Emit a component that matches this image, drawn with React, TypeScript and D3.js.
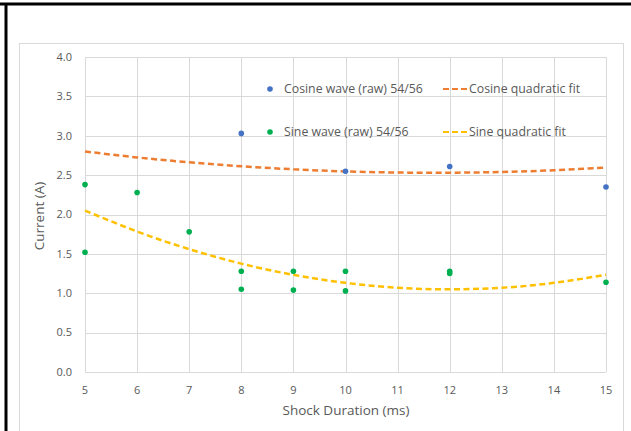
import React, { useRef, useEffect } from 'react';
import * as d3 from 'd3';

// raw measurements
const cosX = [8, 10, 12, 15];
const cosY = [3.03, 2.55, 2.61, 2.35];
const sinX = [5, 5, 6, 7, 8, 8, 9, 9, 10, 10, 12, 12, 15];
const sinY = [2.38, 1.52, 2.28, 1.78, 1.28, 1.05, 1.28, 1.04, 1.28, 1.03, 1.28, 1.25, 1.14];

// fitted curves read at each integer duration
const fitX = [5, 6, 7, 8, 9, 10, 11, 12, 13, 14, 15];
const cosFit = [2.8, 2.725, 2.663, 2.612, 2.574, 2.547, 2.533, 2.531, 2.54, 2.562, 2.595];
const sinFit = [2.05, 1.784, 1.56, 1.376, 1.234, 1.132, 1.07, 1.05, 1.07, 1.132, 1.234];

const xTicks = [5, 6, 7, 8, 9, 10, 11, 12, 13, 14, 15];
const yTicks = [0, 0.5, 1, 1.5, 2, 2.5, 3, 3.5, 4];

const App = () => {
  const svgRef = useRef(null);

  useEffect(() => {
    const width = 631;
    const height = 431;
    const font = 'Open Sans, Lato, sans-serif';
    const textColor = '#595959';

    const svg = d3.select(svgRef.current)
      .attr('width', width)
      .attr('height', height);
    svg.selectAll('*').remove();

    svg.append('rect').attr('width', width).attr('height', height).attr('fill', '#fff');

    // outer black frame (top + left)
    svg.append('line').attr('x1', 0).attr('x2', width).attr('y1', 4).attr('y2', 4)
      .attr('stroke', '#000').attr('stroke-width', 3);
    svg.append('line').attr('x1', 6).attr('x2', 6).attr('y1', 3).attr('y2', height)
      .attr('stroke', '#000').attr('stroke-width', 3);

    // chart area frame
    svg.append('rect').attr('x', 19.5).attr('y', 43.5).attr('width', 604).attr('height', 400)
      .attr('fill', 'none').attr('stroke', '#d9d9d9');

    const x = d3.scaleLinear().domain([5, 15]).range([85, 606]);
    const y = d3.scaleLinear().domain([0, 4]).range([372, 57]);

    const grid = svg.append('g');
    yTicks.forEach(t => {
      grid.append('line').attr('x1', x(5)).attr('x2', x(15))
        .attr('y1', Math.round(y(t)) + 0.5).attr('y2', Math.round(y(t)) + 0.5)
        .attr('stroke', '#d9d9d9');
    });
    xTicks.forEach(t => {
      grid.append('line').attr('y1', y(0)).attr('y2', y(4))
        .attr('x1', Math.round(x(t)) + 0.5).attr('x2', Math.round(x(t)) + 0.5)
        .attr('stroke', '#d9d9d9');
    });

    // tick labels
    svg.append('g').selectAll('text').data(yTicks).enter().append('text')
      .attr('x', 72).attr('y', d => y(d)).attr('dy', '0.35em')
      .attr('text-anchor', 'end').attr('font-family', font).attr('font-size', 11)
      .attr('fill', textColor).text(d => d3.format('.1f')(d));
    svg.append('g').selectAll('text').data(xTicks).enter().append('text')
      .attr('x', d => x(d)).attr('y', 394)
      .attr('text-anchor', 'middle').attr('font-family', font).attr('font-size', 11)
      .attr('fill', textColor).text(d => d);

    // axis titles
    svg.append('text').attr('x', 346).attr('y', 415).attr('text-anchor', 'middle')
      .attr('font-family', font).attr('font-size', 13.5).attr('fill', textColor)
      .text('Shock Duration (ms)');
    svg.append('text').attr('transform', 'translate(44,216) rotate(-90)')
      .attr('text-anchor', 'middle').attr('font-family', font).attr('font-size', 13.5)
      .attr('fill', textColor).text('Current (A)');

    // fit lines
    const line = d3.line<number>()
      .x((d, i) => x(fitX[i]))
      .y(d => y(d))
      .curve(d3.curveNatural);
    svg.append('path').attr('d', line(cosFit)).attr('fill', 'none')
      .attr('stroke', '#ED7D31').attr('stroke-width', 2.5).attr('stroke-dasharray', '6,3.5');
    svg.append('path').attr('d', line(sinFit)).attr('fill', 'none')
      .attr('stroke', '#FFC000').attr('stroke-width', 2.5).attr('stroke-dasharray', '6,3.5');

    // points
    svg.append('g').selectAll('circle').data(cosY).enter().append('circle')
      .attr('cx', (d, i) => x(cosX[i])).attr('cy', d => y(d)).attr('r', 2.8)
      .attr('fill', '#4472C4');
    svg.append('g').selectAll('circle').data(sinY).enter().append('circle')
      .attr('cx', (d, i) => x(sinX[i])).attr('cy', d => y(d)).attr('r', 2.8)
      .attr('fill', '#00B050');

    // legend
    const legend = [
      { label: 'Cosine wave (raw) 54/56', color: '#4472C4', type: 'dot', lx: 270, ly: 89 },
      { label: 'Cosine quadratic fit', color: '#ED7D31', type: 'dash', lx: 443, ly: 89 },
      { label: 'Sine wave (raw) 54/56', color: '#00B050', type: 'dot', lx: 270, ly: 132 },
      { label: 'Sine quadratic fit', color: '#FFC000', type: 'dash', lx: 443, ly: 132 },
    ];
    legend.forEach(l => {
      if (l.type === 'dot') {
        svg.append('circle').attr('cx', l.lx).attr('cy', l.ly).attr('r', 2.8).attr('fill', l.color);
        svg.append('text').attr('x', l.lx + 14).attr('y', l.ly).attr('dy', '0.35em')
          .attr('font-family', font).attr('font-size', 12.3).attr('fill', textColor).text(l.label);
      } else {
        svg.append('line').attr('x1', l.lx).attr('x2', l.lx + 24).attr('y1', l.ly).attr('y2', l.ly)
          .attr('stroke', l.color).attr('stroke-width', 2).attr('stroke-dasharray', '6,3');
        svg.append('text').attr('x', l.lx + 26).attr('y', l.ly).attr('dy', '0.35em')
          .attr('font-family', font).attr('font-size', 12.3).attr('fill', textColor).text(l.label);
      }
    });
  }, []);

  return <svg ref={svgRef} style={{ position: 'absolute', left: 0, top: 0 }}></svg>;
};

export default App;
